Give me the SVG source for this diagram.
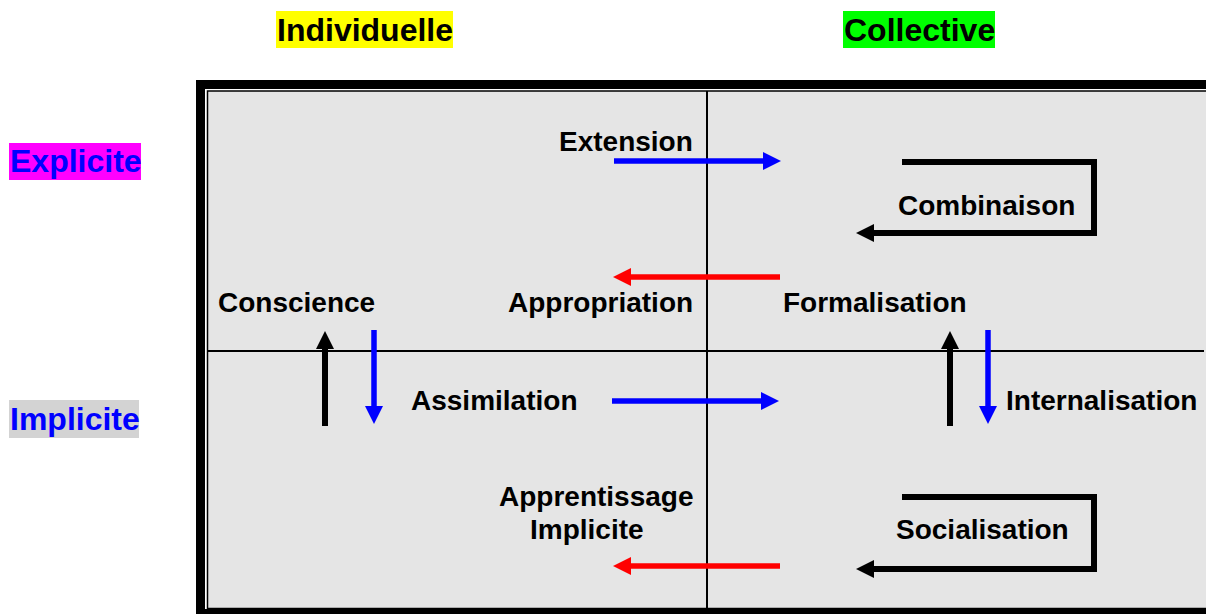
<svg xmlns="http://www.w3.org/2000/svg" width="1206" height="614" viewBox="0 0 1206 614">
<style>
text{font-family:"Liberation Sans",Arial,sans-serif;font-weight:bold;}
.ax{font-size:32px;}
.lb{font-size:28px;fill:#000;}
.c{fill:none;stroke-width:5.5;stroke-linejoin:miter;}
.blue{stroke:#0000FF;}
.red{stroke:#FF0000;}
.blk{stroke:#000;stroke-width:6;}
</style>
<defs>
<marker id="hb" markerUnits="userSpaceOnUse" markerWidth="19" markerHeight="18" refX="1" refY="9" orient="auto"><path d="M0,0 L18,9 L0,18 z" fill="#0000FF"/></marker>
<marker id="hr" markerUnits="userSpaceOnUse" markerWidth="19" markerHeight="18" refX="1" refY="9" orient="auto"><path d="M0,0 L18,9 L0,18 z" fill="#FF0000"/></marker>
<marker id="hk" markerUnits="userSpaceOnUse" markerWidth="19" markerHeight="18" refX="1" refY="9" orient="auto"><path d="M0,0 L18,9 L0,18 z" fill="#000"/></marker>
</defs>
<rect width="1206" height="614" fill="#fff"/>
<g id="frame">
<rect x="196" y="80" width="1030" height="550" fill="#000"/>
<rect x="205" y="89" width="1001" height="520" fill="#fff"/>
<rect x="207.5" y="91" width="1196.5" height="517.5" fill="#E5E5E5" stroke="#000" stroke-width="1.5"/>
<line x1="707" y1="91" x2="707" y2="609" stroke="#000" stroke-width="2"/>
<line x1="207" y1="351" x2="1204" y2="351" stroke="#000" stroke-width="2"/>
</g>
<g id="axis-individuelle"><rect x="276" y="11" width="177" height="37" fill="#FFFF00"/><text class="ax" x="277" y="41">Individuelle</text></g>
<g id="axis-collective"><rect x="843" y="11" width="152" height="37" fill="#00FF00"/><text class="ax" x="844" y="41">Collective</text></g>
<g id="axis-explicite"><rect x="9" y="143" width="132" height="37" fill="#FF00FF"/><text class="ax" x="10" y="172" fill="#0000FF">Explicite</text></g>
<g id="axis-implicite"><rect x="9" y="400" width="130" height="38" fill="#D3D3D3"/><text class="ax" x="10" y="430" fill="#0000FF">Implicite</text></g>
<g id="n-extension"><text class="lb" x="559" y="151">Extension</text></g>
<g id="n-combinaison"><text class="lb" x="898" y="215">Combinaison</text></g>
<g id="n-conscience"><text class="lb" x="218" y="312">Conscience</text></g>
<g id="n-appropriation"><text class="lb" x="508" y="312">Appropriation</text></g>
<g id="n-formalisation"><text class="lb" x="783" y="312">Formalisation</text></g>
<g id="n-assimilation"><text class="lb" x="411" y="410">Assimilation</text></g>
<g id="n-internalisation"><text class="lb" x="1006" y="410">Internalisation</text></g>
<g id="n-apprentissage"><text class="lb" x="499" y="506">Apprentissage</text><text class="lb" x="530" y="539">Implicite</text></g>
<g id="n-socialisation"><text class="lb" x="896" y="539">Socialisation</text></g>
<g id="connectors">
<path class="c blue" d="M614,161 H764" marker-end="url(#hb)"/>
<path class="c red" d="M780,277 H630" marker-end="url(#hr)"/>
<path class="c blue" d="M612,401 H762" marker-end="url(#hb)"/>
<path class="c red" d="M780,566 H630" marker-end="url(#hr)"/>
<path class="c blk" d="M902,162 H1094 V233 H873" marker-end="url(#hk)"/>
<path class="c blk" d="M902,497 H1094 V569 H873" marker-end="url(#hk)"/>
<path class="c blk" d="M325,426 V348" marker-end="url(#hk)"/>
<path class="c blue" d="M374,330 V407" marker-end="url(#hb)"/>
<path class="c blk" d="M950,426 V348" marker-end="url(#hk)"/>
<path class="c blue" d="M988,330 V407" marker-end="url(#hb)"/>
</g>
</svg>
